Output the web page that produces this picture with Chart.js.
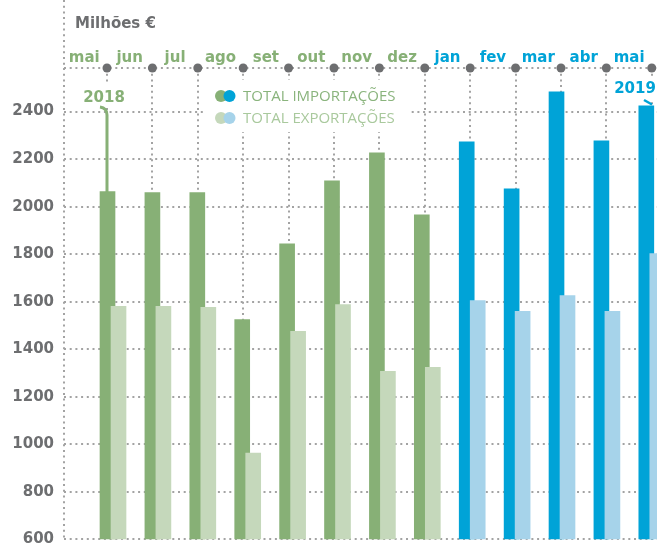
<!DOCTYPE html>
<html lang="pt">
<head>
  <meta charset="UTF-8">
  <title>Importações e exportações</title>
  <script src="https://cdn.jsdelivr.net/npm/chart.js@4"></script>
  <style>
    html, body { margin: 0; padding: 0; background: #ffffff; }
    #wrap { width: 657px; height: 547px; }
  </style>
</head>
<body>
  <div id="wrap"><canvas id="chart"></canvas></div>

<script>
  // months from mai 2018 to mai 2019
  const months = ['mai', 'jun', 'jul', 'ago', 'set', 'out', 'nov', 'dez', 'jan', 'fev', 'mar', 'abr', 'mai'];
  const years = [2018, 2018, 2018, 2018, 2018, 2018, 2018, 2018, 2019, 2019, 2019, 2019, 2019];
  const importacoes = [2063, 2059, 2059, 1525, 1844, 2109, 2227, 1966, 2273, 2075, 2483, 2277, 2424];
  const exportacoes = [1580, 1580, 1576, 963, 1475, 1588, 1307, 1324, 1605, 1559, 1626, 1559, 1802];
  const yTicks = [600, 800, 1000, 1200, 1400, 1600, 1800, 2000, 2200, 2400];

  const green = '#87b076';
  const greenLight = '#c5d8bb';
  const blue = '#00a3d7';
  const blueLight = '#a6d3ea';
  const gray = '#6d6e70';
  const dotGray = '#a3a3a3';
  const dash = [2, 3.7];
  const boldFont = { family: 'DejaVu Sans', weight: 'bold', size: 15 };

  // extra drawing: top dots, year labels, legend, unit label
  const decor = {
    id: 'decor',
    beforeDatasetsDraw(chart) {
      const { ctx, chartArea, scales } = chart;
      const x2 = scales.x2;
      ctx.save();
      // white patches behind the legend and the year labels
      ctx.fillStyle = '#ffffff';
      ctx.fillRect(203, 80, 208, 52);
      ctx.fillRect(80, 84, 48, 24);
      ctx.fillRect(611, 79, 46, 20);

      // left axis line goes on up to the top of the picture
      ctx.strokeStyle = dotGray;
      ctx.lineWidth = 2;
      ctx.setLineDash(dash);
      ctx.beginPath();
      ctx.moveTo(chartArea.left, 0);
      ctx.lineTo(chartArea.left, chartArea.top);
      ctx.stroke();
      ctx.setLineDash([]);

      // dots on the month axis
      ctx.fillStyle = gray;
      months.forEach((m, i) => {
        ctx.beginPath();
        ctx.arc(x2.getPixelForValue(i), chartArea.top, 4.5, 0, Math.PI * 2);
        ctx.fill();
      });
      ctx.restore();
    },
    afterDatasetsDraw(chart) {
      const { ctx, scales } = chart;
      const x2 = scales.x2;
      const y = scales.y;
      ctx.save();

      // unit
      ctx.font = 'bold 15px "DejaVu Sans"';
      ctx.fillStyle = gray;
      ctx.textAlign = 'left';
      ctx.textBaseline = 'middle';
      ctx.fillText('Milhões €', 75, 24);

      // 2018 label and pointer to first bar
      ctx.textAlign = 'center';
      ctx.fillStyle = green;
      ctx.fillText('2018', 104, 98);
      const px0 = x2.getPixelForValue(0);
      ctx.strokeStyle = green;
      ctx.lineWidth = 3;
      ctx.beginPath();
      ctx.moveTo(px0 - 7, 107);
      ctx.quadraticCurveTo(px0, 108, px0, 115);
      ctx.lineTo(px0, y.getPixelForValue(importacoes[0]) + 1);
      ctx.stroke();

      // 2019 label and pointer to last bar
      ctx.fillStyle = blue;
      ctx.fillText('2019', 635, 89);
      ctx.strokeStyle = blue;
      ctx.lineWidth = 2.5;
      ctx.beginPath();
      ctx.moveTo(644, 100);
      ctx.lineTo(652, 104.5);
      ctx.stroke();

      // legend
      const rows = [
        { text: 'TOTAL IMPORTAÇÕES', c1: green, c2: blue, tc: '#8ab47d', ry: 96 },
        { text: 'TOTAL EXPORTAÇÕES', c1: greenLight, c2: blueLight, tc: '#a9c99d', ry: 118 }
      ];
      rows.forEach(r => {
        ctx.fillStyle = r.c1;
        ctx.beginPath();
        ctx.arc(221, r.ry, 6, 0, Math.PI * 2);
        ctx.fill();
        ctx.fillStyle = r.c2;
        ctx.beginPath();
        ctx.arc(229.5, r.ry, 6, 0, Math.PI * 2);
        ctx.fill();
        ctx.fillStyle = r.tc;
        ctx.font = '15px "Open Sans"';
        ctx.textAlign = 'left';
        ctx.fillText(r.text, 243, r.ry + 1);
      });
      ctx.restore();
    }
  };

  new Chart(document.getElementById('chart'), {
    type: 'bar',
    data: {
      datasets: [
        {
          label: 'Total exportações',
          data: exportacoes.map((v, i) => ({ x: i, y: v })),
          backgroundColor: years.map(yr => yr === 2018 ? greenLight : blueLight),
          xAxisID: 'xl',
          yAxisID: 'y',
          barThickness: 15,
          grouped: false,
          order: 1
        },
        {
          label: 'Total importações',
          data: importacoes.map((v, i) => ({ x: i, y: v })),
          backgroundColor: years.map(yr => yr === 2018 ? green : blue),
          xAxisID: 'xb',
          yAxisID: 'y',
          barThickness: 15,
          grouped: false,
          order: 2
        }
      ]
    },
    options: {
      responsive: true,
      maintainAspectRatio: false,
      animation: false,
      layout: { padding: { top: 48, left: 0, right: 0, bottom: 7.7 } },
      plugins: {
        legend: { display: false },
        tooltip: { enabled: false }
      },
      scales: {
        xb: { type: 'linear', display: false, offset: false, grid: { offset: false }, min: -0.969, max: 12.238 },
        xl: { type: 'linear', display: false, offset: false, grid: { offset: false }, min: -1.214, max: 11.993 },
        x2: {
          type: 'linear',
          position: 'top',
          offset: false,
          min: -0.947,
          max: 12.115,
          afterBuildTicks: s => {
            s.ticks = [{ value: s.min }].concat(months.map((m, i) => ({ value: i })));
          },
          afterFit: s => { s.paddingLeft = 0; s.paddingRight = 0; },
          grid: { offset: false, color: dotGray, lineWidth: 2, drawTicks: false },
          border: { display: false, dash: dash },
          ticks: {
            autoSkip: false,
            maxRotation: 0,
            padding: 1,
            labelOffset: -22.7,
            font: boldFont,
            color: c => years[c.tick.value] === 2019 ? blue : green,
            callback: v => Number.isInteger(v) ? months[v] : ''
          }
        },
        y: {
          min: 600,
          max: 2583.5,
          afterBuildTicks: s => {
            s.ticks = yTicks.map(v => ({ value: v })).concat([{ value: s.max }]);
          },
          afterFit: s => { s.width = 64; s.paddingTop = 0; s.paddingBottom = 0; },
          grid: { color: dotGray, lineWidth: 2, drawTicks: false },
          border: { display: false, dash: dash },
          ticks: {
            padding: 10,
            color: gray,
            font: { family: 'DejaVu Sans', weight: 'bold', size: 15, lineHeight: 1 },
            callback: v => yTicks.includes(v) ? String(v) : ''
          }
        }
      }
    },
    plugins: [decor]
  });
</script>
</body>
</html>
